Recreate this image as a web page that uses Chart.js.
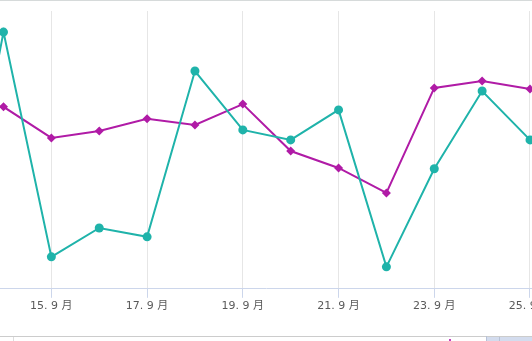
<!DOCTYPE html>
<html>
<head>
<meta charset="utf-8">
<script src="https://cdn.jsdelivr.net/npm/chart.js@4"></script>
<style>
  html, body { margin: 0; padding: 0; background: #fff; }
  #wrap { position: relative; width: 532px; height: 341px; overflow: hidden; }
  #wrap canvas { position: absolute; left: 0; top: 0; }
  .deco { position: absolute; }
</style>
</head>
<body>
<div id="wrap">
  <canvas id="grafico" width="532" height="341"></canvas>
  <div class="deco" style="left:0;top:0;width:532px;height:1px;background:#d6dada;"></div>
  <div class="deco" style="left:0;top:336px;width:532px;height:1px;background:#cccccc;"></div>
  <div class="deco" style="left:13px;top:337px;width:1px;height:4px;background:#dddddd;"></div>
  <div class="deco" style="left:486px;top:337px;width:46px;height:4px;background:#d3dcee;"></div>
  <div class="deco" style="left:486px;top:336px;width:1px;height:5px;background:#b8c2d6;"></div>
  <div class="deco" style="left:499px;top:337px;width:1px;height:4px;background:#b8c2d6;"></div>
  <div class="deco" style="left:449px;top:339px;width:2px;height:2px;background:#c43fbf;"></div>
</div>
<script>
// dias de setembro (o dia 13 fica fora da área visível)
const dias = [13, 14, 15, 16, 17, 18, 19, 20, 21, 22, 23, 24, 25];
const diasRotulo = [15, 17, 19, 21, 23, 25];
const serieTurquesa = [3, 92.4, 11.5, 21.9, 18.7, 78.4, 57.2, 53.6, 64.4, 7.9, 43.2, 71.2, 53.6];
const serieMagenta = [67, 65.5, 54.3, 56.8, 61.2, 59.0, 66.5, 49.6, 43.5, 34.5, 72.3, 74.8, 71.9];

const ctx = document.getElementById('grafico').getContext('2d');

function pontos(valores) {
  return dias.map((d, i) => ({ x: d, y: valores[i] }));
}

new Chart(ctx, {
  type: 'line',
  data: {
    datasets: [{
      label: 'A',
      data: pontos(serieTurquesa),
      borderColor: '#1fb3aa',
      backgroundColor: '#1fb3aa',
      borderWidth: 2,
      pointStyle: 'circle',
      pointRadius: 4.5,
      pointBorderWidth: 0,
      tension: 0
    }, {
      label: 'B',
      data: pontos(serieMagenta),
      borderColor: '#b01ba6',
      backgroundColor: '#b01ba6',
      borderWidth: 2,
      pointStyle: 'rectRot',
      pointRadius: 4.5,
      pointBorderWidth: 0,
      tension: 0
    }]
  },
  options: {
    responsive: false,
    animation: false,
    layout: { autoPadding: false, padding: { top: 11, bottom: 26, left: 0, right: 0 } },
    plugins: { legend: { display: false }, tooltip: { enabled: false } },
    scales: {
      x: {
        type: 'linear',
        min: 14 - 3.5 / 47.86,
        max: 25 + 2 / 47.86,
        afterBuildTicks: (scale) => {
          scale.ticks = diasRotulo.map(v => ({ value: v }));
        },
        // o último rótulo fica cortado na borda, como no original
        afterFit: (scale) => {
          scale.paddingLeft = 0;
          scale.paddingRight = 0;
        },
        grid: { color: '#e6e6e6', tickColor: '#ccd6eb', tickLength: 9, lineWidth: 1 },
        border: { color: '#ccd6eb', width: 1 },
        ticks: {
          padding: 2,
          maxRotation: 0,
          autoSkip: false,
          color: '#5a5a5a',
          font: { family: '"DejaVu Sans", "Noto Sans CJK SC", sans-serif', size: 11 },
          callback: (v) => v + '. 9 月'
        }
      },
      y: {
        display: false,
        min: 0,
        max: 100
      }
    }
  }
});
</script>
</body>
</html>
